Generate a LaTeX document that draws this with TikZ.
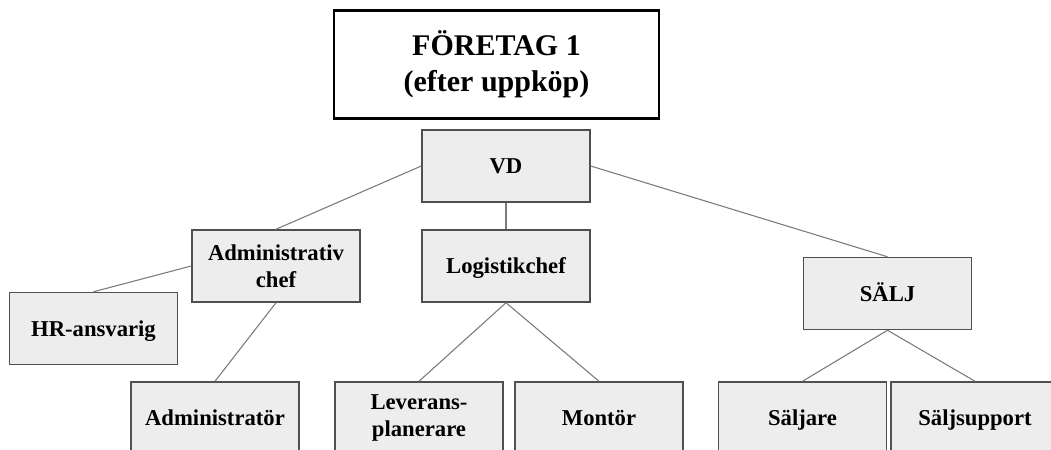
\documentclass[tikz,border=0pt]{standalone}
\usepackage{fontspec}
\setmainfont{Liberation Serif}
\definecolor{boxfill}{HTML}{EDEDED}
\definecolor{boxline}{HTML}{505050}
\definecolor{linkline}{HTML}{7A7A7A}
\tikzset{
  role/.style={draw=boxline, line width=1.1pt, fill=boxfill, rectangle,
    minimum width=126pt, minimum height=54pt, inner sep=0pt,
    align=center, font=\bfseries\fontsize{17}{20}\selectfont},
  single/.style={role, text height=11.5pt, text depth=0pt},
  headbox/.style={draw=black, line width=1.6pt, fill=white, rectangle,
    minimum width=244pt, minimum height=81pt, inner sep=0pt,
    align=center, font=\bfseries\fontsize{22.5}{27}\selectfont},
  link/.style={draw=linkline, line width=0.8pt}
}
\begin{document}
\begin{tikzpicture}[x=0.75pt, y=-0.75pt]
  \useasboundingbox (0,0) rectangle (1051,450);
  \clip (0,0) rectangle (1051,450);
  % company heading
  \node[headbox] (head) at (496.5,64.5) {FÖRETAG 1\\(efter uppköp)};
  % organisation
  \node[single] (vd)    at (506,166)   {VD};
  \node[role]   (adm)   at (276,266)   {Administrativ\\chef};
  \node[single] (log)   at (506,266)   {Logistikchef};
  \node[single] (salj)  at (887.5,293.5) {SÄLJ};
  \node[single] (hr)    at (93.5,328.5) {HR-ansvarig};
  \node[single] (admr)  at (215,418)   {Administratör};
  \node[role]   (lev)   at (419,418)   {Leverans-\\planerare};
  \node[single] (mont)  at (599,418)   {Montör};
  \node[single] (sljr)  at (802.5,418) {Säljare};
  \node[single] (slsp)  at (975,418)   {Säljsupport};
  % reporting lines
  \draw[link] (vd.west)   -- (adm.north);
  \draw[link] (vd.south)  -- (log.north);
  \draw[link] (vd.east)   -- (salj.north);
  \draw[link] (adm.west)  -- (hr.north);
  \draw[link] (adm.south) -- (admr.north);
  \draw[link] (log.south) -- (lev.north);
  \draw[link] (log.south) -- (mont.north);
  \draw[link] (salj.south) -- (sljr.north);
  \draw[link] (salj.south) -- (slsp.north);
\end{tikzpicture}
\end{document}
